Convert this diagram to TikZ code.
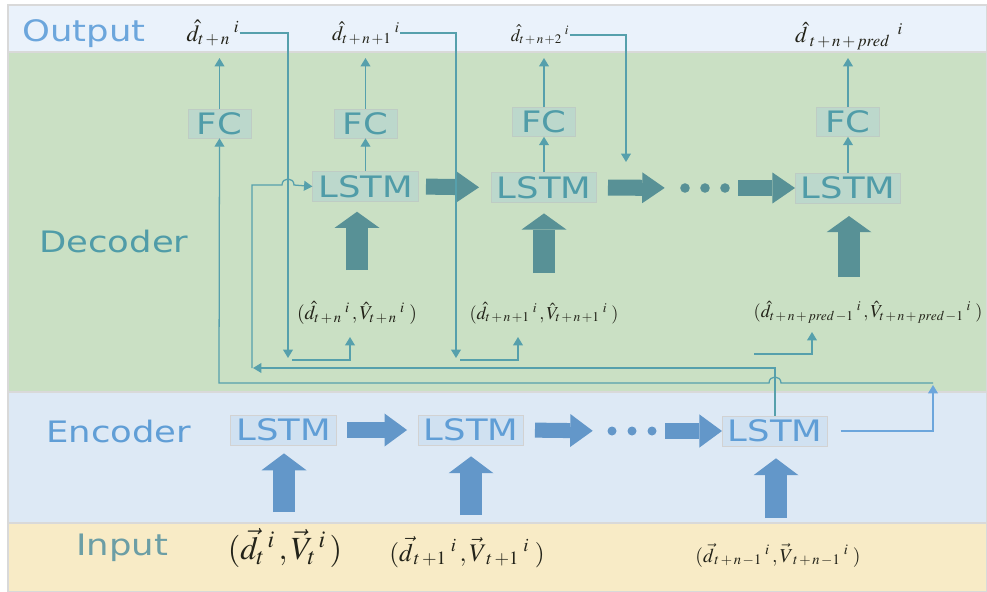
\documentclass[tikz,border=0pt]{standalone}
\usepackage{mathptmx}
\usepackage[no-math]{fontspec}
\usetikzlibrary{arrows.meta}
\newfontfamily\boxfont[FakeStretch=1.2]{DejaVu Sans}

\definecolor{outbg}{RGB}{234,242,251}
\definecolor{decbg}{RGB}{202,224,196}
\definecolor{encbg}{RGB}{221,233,245}
\definecolor{inbg}{RGB}{248,235,198}
\definecolor{encbox}{RGB}{208,225,241}
\definecolor{decbox}{RGB}{188,216,204}
\definecolor{decedge}{RGB}{190,204,196}
\definecolor{encink}{RGB}{96,158,214}
\definecolor{decink}{RGB}{80,156,168}
\definecolor{inink}{RGB}{108,158,165}
\definecolor{encarrow}{RGB}{99,151,201}
\definecolor{decarrow}{RGB}{88,145,150}
\definecolor{lineteal}{RGB}{86,160,172}
\definecolor{lineblue}{RGB}{108,166,220}
\definecolor{mathink}{RGB}{35,35,25}

\begin{document}
\begin{tikzpicture}[
    x=0.025cm, y=-0.025cm,
    >={Triangle[length=6pt,width=7pt]},
    band/.style={draw=gray!30, line width=0.8pt},
    bandname/.style={anchor=base west, inner sep=0pt, font=\boxfont\fontsize{21}{25}\selectfont},
    enclstm/.style={draw=gray!35, fill=encbox, text=encink, inner sep=0pt, minimum width=75pt, minimum height=21.5pt, font=\boxfont\fontsize{21}{25}\selectfont},
    declstm/.style={enclstm, draw=decedge, fill=decbox, text=decink},
    fcbox/.style={declstm, minimum width=45pt, minimum height=20.6pt},
    mlabel/.style={inner sep=0pt, text=mathink, font=\fontsize{#1}{#1}\selectfont},
    dotrow/.style={inner sep=0pt, minimum width=35.5pt},
    link/.style={draw=lineteal, line width=0.9pt},
    encstep/.style={draw=encarrow, line width=10.7pt, -{Triangle[length=16pt,width=23.5pt,line width=0pt]}},
    decstep/.style={draw=decarrow, line width=11.4pt, -{Triangle[length=16pt,width=22pt,line width=0pt]}},
    encup/.style={draw=encarrow, line width=15.6pt, -{Triangle[length=12pt,width=32pt,line width=0pt]}},
    decup/.style={draw=decarrow, line width=16pt, -{Triangle[length=11.5pt,width=32pt,line width=0pt]}}
]
    \useasboundingbox (0,0) rectangle (987,592);
    \fill[white] (0,0) rectangle (987,592);

    % bands
    \draw[band, fill=outbg] (8,5) rectangle (987,52);
    \draw[band, fill=decbg] (8,52) rectangle (987,392);
    \draw[band, fill=encbg] (8,392) rectangle (987,523);
    \draw[band, fill=inbg] (8,523) rectangle (987,592);

    \node[bandname, text=lineblue] (outname) at (22,42) {Output};
    \node[bandname, text=decink] (decname) at (39,252) {Decoder};
    \node[bandname, text=encink] (encname) at (46,442) {Encoder};
    \node[bandname, text=inink] (inname) at (76,555) {Input};

    % encoder
    \node[enclstm] (e1) at (283.5,430) {LSTM};
    \node[enclstm] (e2) at (471,430) {LSTM};
    \node[enclstm] (e3) at (775,431) {LSTM};
    \node[dotrow] (edots) at (632,431) {};
    \foreach \dx in {-20,0,20}
        \fill[encarrow] (edots.center) ++(\dx,0) circle (3.2pt);

    \draw[encstep, shorten <=7.8pt, shorten >=7.8pt] (e1.east) -- (e2.west);
    \draw[encstep, shorten <=7.8pt, shorten >=10pt] (e2.east) -- (edots.west);
    \draw[encstep, shorten <=5.7pt] (edots.east) -- (e3.west);

    % inputs
    \node[mlabel=23] (in1) at (285,548) {$(\vec{d}_{t}{}^{\,i}\,,\vec{V}_{t}{}^{\,i}\,)$};
    \node[mlabel=18] (in2) at (467,552) {$(\vec{d}_{\,t\,+1}{}^{\;i}\,,\vec{V}_{\;t\,+1}{}^{\;i}\;)$};
    \node[mlabel=14] (in3) at (778,555) {$(\vec{d}_{\,t\,+\,n\,-1}{}^{\;i}\,,\vec{V}_{\;t\,+\,n\,-1}{}^{\;i}\;)$};

    \coordinate (v1) at (284,512);
    \coordinate (v2) at (471,515);
    \coordinate (v3) at (776,518);
    \draw[encup, shorten >=5.7pt] (v1) -- (v1 |- e1.south);
    \draw[encup, shorten >=7.8pt] (v2) -- (v2 |- e2.south);
    \draw[encup, shorten >=8.5pt] (v3) -- (v3 |- e3.south);

    % decoder
    \node[declstm] (d1) at (365.5,186.5) {LSTM};
    \node[declstm] (d2) at (544,187.5) {LSTM};
    \node[declstm] (d3) at (848,188) {LSTM};
    \node[dotrow] (ddots) at (705,188) {};
    \foreach \dx in {-20,0,20}
        \fill[decarrow] (ddots.center) ++(\dx,0) circle (3.4pt);

    \draw[decstep, shorten <=5.3pt, shorten >=8.5pt] (d1.east) -- (d2.west);
    \draw[decstep, shorten <=7.8pt, shorten >=10.7pt] (d2.east) -- (ddots.west);
    \draw[decstep, shorten <=5.7pt] (ddots.east) -- (d3.west);

    \node[fcbox] (f1) at (219.5,123.5) {FC};
    \node[fcbox] (f2) at (365.5,123.5) {FC};
    \node[fcbox] (f3) at (544,122) {FC};
    \node[fcbox] (f4) at (848,122) {FC};

    \draw[link, ->] (d1.north) -- (f2.south);
    \draw[link, ->] (d2.north) -- (f3.south);
    \draw[link, ->] (d3.north) -- (f4.south);

    \node[mlabel=14] (di1) at (357,313) {$(\hat{d}_{t\,+\,n}{}^{\;i}\,,\hat{V}_{t\,+\,n}{}^{\;i}\;)$};
    \node[mlabel=13] (di2) at (544,313) {$(\hat{d}_{t\,+\,n\,+1}{}^{\;i}\,,\hat{V}_{t\,+\,n\,+1}{}^{\;i}\;)$};
    \node[mlabel=13] (di3) at (868,312) {$(\hat{d}_{t\,+\,n\,+\,pred\,-1}{}^{\;i}\,,\hat{V}_{t\,+\,n\,+\,pred\,-1}{}^{\;i}\;)$};

    \coordinate (u1) at (357,270);
    \coordinate (u2) at (544,273);
    \coordinate (u3) at (849,277);
    \draw[decup, shorten >=7pt] (u1) -- (u1 |- d1.south);
    \draw[decup, shorten >=7.5pt] (u2) -- (u2 |- d2.south);
    \draw[decup, shorten >=9pt] (u3) -- (u3 |- d3.south);

    % outputs
    \node[mlabel=16.5] (o1) at (213,33) {$\hat{d}_{t\,+\,n}{}^{\;i}$};
    \node[mlabel=14.5] (o2) at (366,33) {$\hat{d}_{t\,+\,n\,+1}{}^{\;i}$};
    \node[mlabel=12.5] (o3) at (540,35) {$\hat{d}_{t\,+\,n\,+2}{}^{\;i}$};
    \node[mlabel=16] (o4) at (849,36) {$\hat{d}_{\;t\,+\,n\,+\,pred}{}^{\;\;i}$};

    \coordinate (tiprow) at (0,58);
    \draw[link, ->] (f1.north) -- (f1.north |- tiprow);
    \draw[link, ->] (f2.north) -- (f2.north |- tiprow);
    \draw[link, ->] (f3.north) -- (f3.north |- tiprow);
    \draw[link, ->] (f4.north) -- (f4.north |- tiprow);

    % feedback from outputs
    \coordinate (k1) at (288,358);
    \coordinate (k2) at (456,358);
    \coordinate (k3) at (626,162);
    \draw[link, ->] (o1.east) -| (k1);
    \draw[link, ->] (o2.east) -| (k2);
    \draw[link, ->] (o3.east) -| (k3);
    \draw[link, ->] (292,360) -| (350,337);
    \draw[link, ->] (460,360) -| (518,337);
    \draw[link, ->] (754,354) -| (812,332);

    % encoder state into decoder
    \draw[link, ->] (e3.north) |- (253,368);
    \draw[link, ->] (252,368) -- (252,185) -- (282,185)
        .. controls (282,177) and (294,177) .. (294,185) -- (d1.west);
    \draw[link, draw=lineblue, ->, shorten <=9pt] (e3.east) -| (933,385);
    \draw[link, ->] (933,383) -- (781,383)
        .. controls (781,375) and (769,375) .. (769,383) -- (219,383) -- (f1.south);

\end{tikzpicture}
\end{document}
